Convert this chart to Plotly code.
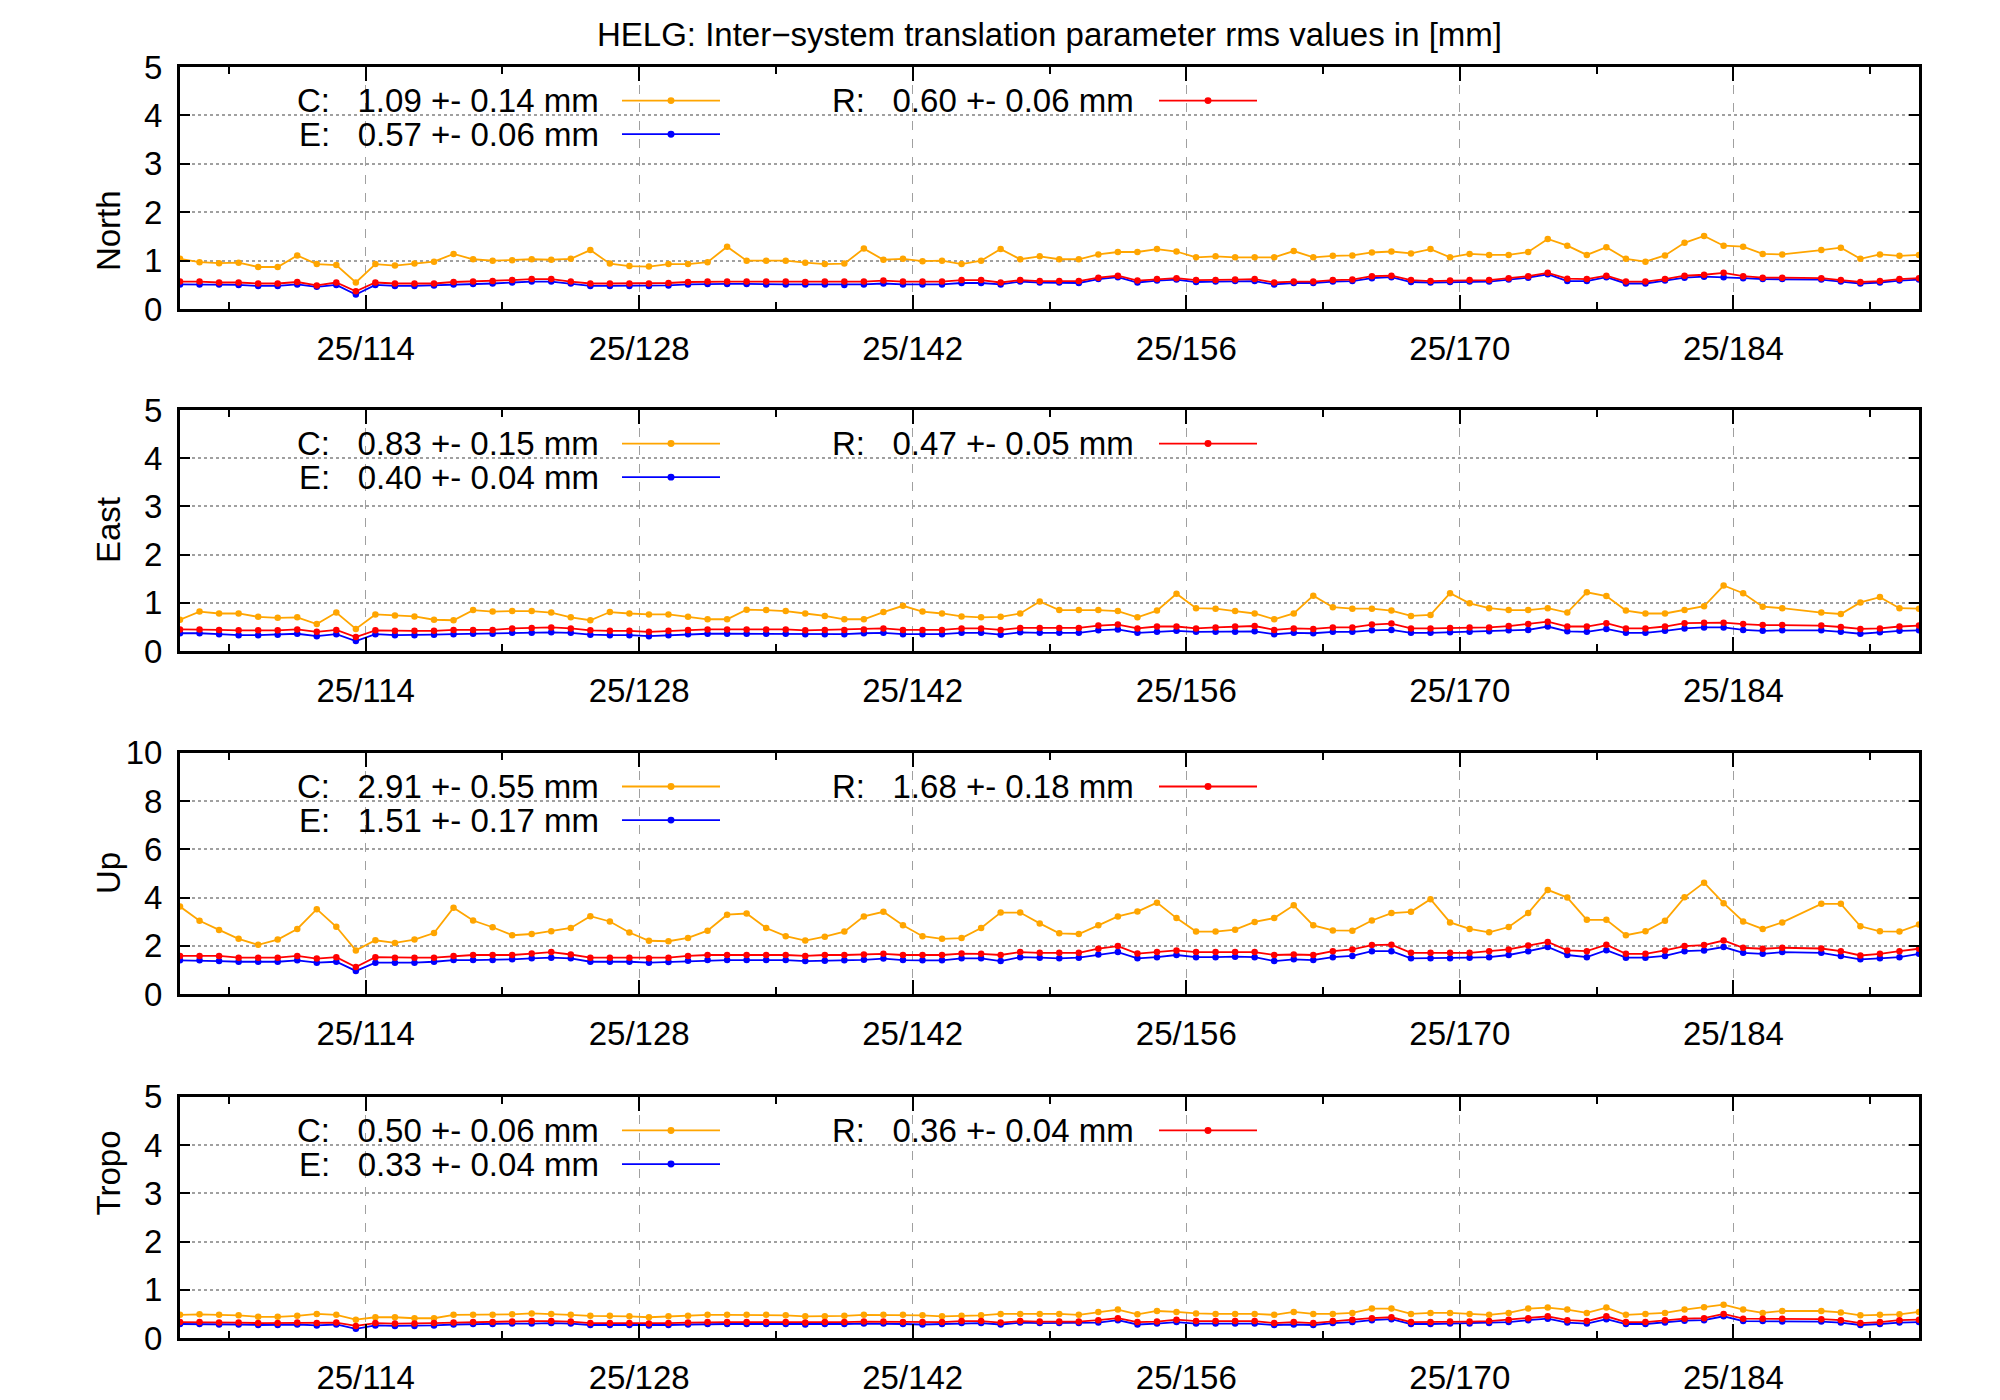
import plotly.graph_objects as go

# day of year 2025 (epoch at noon), day 187 missing
days = [d + 0.5 for d in range(104, 194) if d != 187]

north_c = [1.04, 0.97, 0.95, 0.96, 0.87, 0.87, 1.11, 0.93, 0.91, 0.55, 0.93, 0.90, 0.94, 0.98, 1.14, 1.03,
           1.00, 1.01, 1.03, 1.02, 1.04, 1.22, 0.94, 0.89, 0.88, 0.93, 0.93, 0.97, 1.29, 1.00, 1.00, 1.00,
           0.96, 0.93, 0.94, 1.25, 1.02, 1.04, 0.99, 1.00, 0.93, 1.00, 1.24, 1.03, 1.09, 1.03, 1.03,
           1.13, 1.18, 1.18, 1.24, 1.19, 1.07, 1.09, 1.07, 1.07, 1.07, 1.20, 1.07, 1.10, 1.11, 1.17, 1.19,
           1.15, 1.24, 1.07, 1.14, 1.12, 1.12, 1.18, 1.45, 1.31, 1.12, 1.28, 1.04, 0.98, 1.11, 1.37, 1.51,
           1.31, 1.29, 1.14, 1.13, 1.22, 1.27, 1.04, 1.13, 1.10, 1.12]
north_r = [.57, .57, .55, .55, .53, .53, .56, .49, .55, .37, .55, .53, .53, .53, .56, .57, .58, .60, .62, .62,
           .57, .53, .53, .53, .53, .54, .56, .57, .57, .57, .57, .57, .56, .57, .57, .57, .59, .57, .57, .57,
           .60, .60, .55, .60, .58, .58, .58,
           .65, .69, .59, .62, .64, .60, .60, .61, .62, .55, .57, .57, .60, .61, .68, .69, .60, .58, .59, .60,
           .60, .64, .68, .75, .63, .62, .69, .57, .57, .62, .69, .71, .75, .68, .65, .65, .64, .60, .56, .58,
           .62, .64]
north_e = [.51, .51, .51, .50, .48, .48, .51, .46, .50, .30, .50, .48, .48, .49, .51, .52, .53, .55, .57, .57,
           .53, .48, .48, .48, .48, .49, .51, .52, .52, .52, .51, .51, .51, .51, .50, .51, .53, .51, .51, .51,
           .54, .54, .51, .57, .55, .55, .54,
           .62, .66, .55, .59, .61, .56, .57, .58, .58, .51, .54, .54, .57, .58, .64, .66, .56, .55, .56, .57,
           .57, .61, .65, .72, .58, .58, .66, .53, .53, .59, .65, .67, .66, .64, .62, .62, .61, .57, .53, .55,
           .59, .61]

east_c = [.65, .82, .78, .78, .71, .69, .70, .56, .80, .46, .76, .74, .72, .65, .64, .85, .82, .83, .83, .80,
          .70, .64, .81, .78, .76, .76, .71, .66, .66, .86, .85, .83, .78, .73, .66, .66, .81, .94, .82, .78,
          .72, .70, .71, .78, 1.03, .85, .85,
          .85, .83, .70, .84, 1.19, .89, .88, .83, .78, .66, .78, 1.15, .91, .88, .88, .84, .73, .75, 1.20, .99,
          .89, .85, .85, .89, .80, 1.22, 1.14, .84, .78, .78, .85, .93, 1.36, 1.20, .92, .89, .80, .77, 1.01, 1.12,
          .89, .88]
east_r = [.45, .45, .44, .43, .43, .43, .45, .40, .44, .29, .43, .42, .42, .42, .44, .44, .44, .47, .48, .49,
          .47, .43, .42, .42, .40, .42, .44, .45, .45, .45, .45, .45, .43, .44, .44, .45, .47, .44, .44, .44,
          .47, .47, .44, .48, .48, .48, .48,
          .53, .55, .47, .51, .51, .47, .49, .51, .52, .44, .47, .46, .49, .49, .55, .57, .47, .47, .48, .49,
          .49, .52, .56, .61, .51, .51, .58, .47, .47, .51, .58, .59, .59, .56, .54, .54, .53, .50, .46, .47,
          .51, .53]
east_e = [.37, .37, .35, .33, .33, .34, .36, .31, .35, .21, .35, .33, .33, .34, .35, .36, .36, .38, .38, .39,
          .38, .34, .33, .33, .31, .33, .35, .36, .36, .36, .36, .36, .35, .35, .35, .37, .38, .35, .35, .35,
          .38, .38, .34, .39, .38, .38, .38,
          .43, .45, .38, .40, .42, .40, .40, .40, .41, .35, .38, .37, .40, .40, .43, .44, .38, .38, .39, .40,
          .41, .43, .44, .51, .41, .40, .46, .38, .38, .42, .47, .49, .49, .44, .42, .43, .43, .40, .36, .39,
          .42, .43]

up_c = [3.63, 3.04, 2.66, 2.29, 2.04, 2.26, 2.70, 3.52, 2.79, 1.81, 2.23, 2.12, 2.26, 2.53, 3.58, 3.05,
        2.77, 2.44, 2.49, 2.60, 2.74, 3.23, 3.01, 2.55, 2.21, 2.19, 2.33, 2.63, 3.29, 3.34, 2.74, 2.40,
        2.22, 2.38, 2.59, 3.22, 3.41, 2.85, 2.40, 2.29, 2.32, 2.74, 3.38, 3.38, 2.93, 2.52, 2.49,
        2.85, 3.22, 3.42, 3.79, 3.15, 2.59, 2.59, 2.67, 2.99, 3.15, 3.68, 2.85, 2.64, 2.63, 3.05, 3.36,
        3.41, 3.93, 2.97, 2.70, 2.56, 2.78, 3.36, 4.32, 4.00, 3.08, 3.08, 2.44, 2.60, 3.04, 4.01, 4.62,
        3.77, 3.01, 2.70, 2.97, 3.74, 3.74, 2.81, 2.60, 2.59, 2.88]
up_r = [1.58, 1.58, 1.58, 1.51, 1.51, 1.51, 1.58, 1.47, 1.53, 1.12, 1.53, 1.51, 1.51, 1.51, 1.58, 1.62,
        1.62, 1.62, 1.68, 1.74, 1.64, 1.51, 1.51, 1.51, 1.48, 1.51, 1.58, 1.62, 1.62, 1.62, 1.62, 1.62,
        1.58, 1.62, 1.62, 1.64, 1.67, 1.62, 1.62, 1.62, 1.68, 1.67, 1.62, 1.74, 1.71, 1.71, 1.71,
        1.88, 1.99, 1.68, 1.74, 1.81, 1.74, 1.74, 1.74, 1.74, 1.62, 1.64, 1.62, 1.78, 1.85, 2.03, 2.05,
        1.71, 1.71, 1.71, 1.71, 1.78, 1.85, 2.01, 2.16, 1.81, 1.78, 2.05, 1.67, 1.67, 1.81, 1.99, 2.03,
        2.22, 1.92, 1.88, 1.92, 1.89, 1.78, 1.60, 1.67, 1.78, 1.88]
up_e = [1.40, 1.40, 1.37, 1.34, 1.34, 1.34, 1.40, 1.30, 1.34, 0.96, 1.30, 1.30, 1.30, 1.34, 1.41, 1.41,
        1.41, 1.44, 1.48, 1.51, 1.48, 1.34, 1.34, 1.34, 1.30, 1.33, 1.38, 1.41, 1.41, 1.41, 1.41, 1.41,
        1.37, 1.38, 1.40, 1.42, 1.47, 1.41, 1.40, 1.40, 1.48, 1.48, 1.37, 1.53, 1.51, 1.48, 1.51,
        1.64, 1.74, 1.48, 1.53, 1.62, 1.53, 1.53, 1.55, 1.53, 1.37, 1.44, 1.41, 1.53, 1.58, 1.78, 1.78,
        1.48, 1.48, 1.48, 1.51, 1.53, 1.62, 1.78, 1.95, 1.62, 1.53, 1.82, 1.51, 1.51, 1.58, 1.78, 1.81,
        1.95, 1.71, 1.67, 1.74, 1.71, 1.58, 1.44, 1.48, 1.53, 1.67]

tropo_c = [.48, .49, .48, .47, .44, .44, .46, .50, .48, .38, .43, .43, .41, .41, .48, .48, .48, .49, .51, .50,
           .48, .46, .46, .45, .43, .45, .46, .48, .48, .48, .48, .47, .45, .45, .46, .48, .48, .48, .47, .45,
           .46, .47, .50, .50, .50, .50, .48,
           .54, .59, .49, .56, .54, .51, .50, .50, .50, .48, .54, .50, .50, .52, .61, .61, .50, .52, .52, .50,
           .48, .52, .61, .63, .59, .52, .63, .48, .50, .52, .59, .64, .69, .59, .52, .56, .56, .53, .47, .48,
           .49, .54]
tropo_r = [.33, .33, .32, .32, .31, .31, .32, .31, .32, .25, .31, .30, .30, .31, .32, .33, .33, .34, .35, .35,
           .34, .31, .31, .31, .30, .31, .32, .33, .33, .33, .33, .33, .32, .33, .33, .34, .34, .33, .33, .33,
           .35, .35, .32, .35, .34, .34, .34,
           .37, .41, .33, .34, .38, .35, .35, .35, .35, .31, .33, .31, .35, .38, .41, .43, .33, .33, .34, .34,
           .35, .38, .41, .45, .37, .35, .45, .33, .33, .37, .40, .41, .50, .40, .40, .40, .39, .37, .31, .33,
           .37, .38]
tropo_e = [.29, .29, .28, .28, .27, .27, .28, .26, .28, .19, .26, .25, .25, .26, .28, .29, .29, .30, .30, .31,
           .30, .27, .27, .27, .26, .27, .28, .29, .29, .29, .29, .29, .28, .29, .29, .30, .30, .29, .28, .29,
           .31, .31, .28, .32, .31, .31, .31,
           .32, .37, .28, .30, .33, .30, .30, .30, .30, .27, .28, .27, .31, .33, .37, .39, .29, .29, .30, .30,
           .31, .33, .37, .40, .32, .30, .39, .29, .29, .32, .36, .37, .45, .35, .35, .34, .34, .32, .27, .29,
           .32, .33]

panels = ["North", "East", "Up", "Tropo"]
series = {"North": (north_c, north_e, north_r), "East": (east_c, east_e, east_r),
          "Up": (up_c, up_e, up_r), "Tropo": (tropo_c, tropo_e, tropo_r)}
stats = {"North": ("1.09 +- 0.14", "0.57 +- 0.06", "0.60 +- 0.06"),
         "East": ("0.83 +- 0.15", "0.40 +- 0.04", "0.47 +- 0.05"),
         "Up": ("2.91 +- 0.55", "1.51 +- 0.17", "1.68 +- 0.18"),
         "Tropo": ("0.50 +- 0.06", "0.33 +- 0.04", "0.36 +- 0.04")}
yranges = {"North": 5, "East": 5, "Up": 10, "Tropo": 5}
ydticks = {"North": 1, "East": 1, "Up": 2, "Tropo": 1}
major_days = [114, 128, 142, 156, 170, 184]
tick_labels = ["25/%d" % d for d in major_days]

colors = {"C": "#ffa500", "E": "#0000ff", "R": "#ff0000"}
FONT = "Liberation Sans, Arial, sans-serif"
FS = 33

W, H = 2000, 1400
L, R, T, B = 172, 89, 59, 55
pw, ph = W - L - R, H - T - B
panel_px = [(59, 304), (406, 650), (753, 997), (1101, 1345)]

fig = go.Figure()
annotations = []
shapes = []

for i, name in enumerate(panels):
    k = "" if i == 0 else str(i + 1)
    top, bot = panel_px[i]
    dom = [1 - (bot - T) / ph, 1 - (top - T) / ph]
    c, e, r = series[name]
    for lab, vals in (("C", c), ("E", e), ("R", r)):
        fig.add_trace(go.Scatter(
            x=days, y=vals, mode="lines+markers", xaxis="x" + k, yaxis="y" + k,
            line=dict(color=colors[lab], width=1.8), marker=dict(color=colors[lab], size=6.5),
            showlegend=False, hoverinfo="x+y"))

    ymax = yranges[name]
    fig.update_layout(**{
        "xaxis" + k: dict(domain=[0, 1], anchor="y" + k, range=[104.5, 193.5],
                          tickvals=major_days, ticktext=tick_labels,
                          ticks="inside", ticklen=14, tickwidth=1.5, tickcolor="black",
                          minor=dict(tickvals=[107, 121, 135, 149, 163, 177, 191], ticks="inside",
                                     ticklen=7, tickcolor="black", showgrid=False),
                          showgrid=True, gridcolor="#a0a0a0", griddash="dash", gridwidth=1,
                          showline=True, linecolor="black", linewidth=3, mirror="ticks",
                          zeroline=False, ticklabelstandoff=8,
                          tickfont=dict(size=FS, color="black", family=FONT)),
        "yaxis" + k: dict(domain=dom, anchor="x" + k, range=[0, ymax], dtick=ydticks[name],
                          ticks="inside", ticklen=10, tickwidth=1.5, tickcolor="black",
                          showgrid=True, gridcolor="#a0a0a0", griddash="dot", gridwidth=1.5,
                          showline=True, linecolor="black", linewidth=3, mirror="ticks",
                          zeroline=False, ticklabelstandoff=8,
                          tickfont=dict(size=FS, color="black", family=FONT)),
    })

    # white legend box hiding the grid
    shapes.append(dict(type="rect", xref="paper", yref="paper",
                       x0=0.002, x1=(1268 - L) / pw, y0=1 - (top + 0.28 * (bot - top) - T) / ph,
                       y1=dom[1] - 0.002, fillcolor="white", line_width=0, layer="between"))
    annotations.append(dict(text=name, xref="paper", yref="paper", x=(80 - L) / pw,
                            y=(dom[0] + dom[1]) / 2, textangle=-90, showarrow=False,
                            font=dict(size=FS, color="black", family=FONT)))

    sc, se, sr = stats[name]
    rows = [("C", sc, 593, 614, 34), ("E", se, 593, 614, 68), ("R", sr, 1128, 1151, 34)]
    for lab, txt, tx, lx, dy in rows:
        yy = 1 - (top + dy - T) / ph
        annotations.append(dict(text=f"{lab}:\u00a0\u00a0\u00a0{txt} mm", xref="paper", yref="paper",
                                x=(tx - L) / pw, y=yy, xanchor="right", yanchor="middle",
                                showarrow=False, font=dict(size=FS, color="black", family=FONT)))
        x0, x1 = (lx - L) / pw, (lx + 98 - L) / pw
        shapes.append(dict(type="line", xref="paper", yref="paper", x0=x0, x1=x1, y0=yy, y1=yy,
                           line=dict(color=colors[lab], width=1.8)))
        xm = (x0 + x1) / 2
        shapes.append(dict(type="circle", xref="paper", yref="paper",
                           x0=xm - 3.5 / pw, x1=xm + 3.5 / pw, y0=yy - 3.5 / ph, y1=yy + 3.5 / ph,
                           fillcolor=colors[lab], line_width=0))

fig.update_layout(
    width=W, height=H, margin=dict(l=L, r=R, t=T, b=B),
    paper_bgcolor="white", plot_bgcolor="white",
    title=dict(text="HELG: Inter\u2212system translation parameter rms values in [mm]",
               x=(L + pw / 2) / W, xanchor="center", y=1 - 26 / H, yanchor="middle",
               font=dict(size=FS, color="black", family=FONT)),
    annotations=annotations, shapes=shapes,
)

fig.write_html("out.html")
